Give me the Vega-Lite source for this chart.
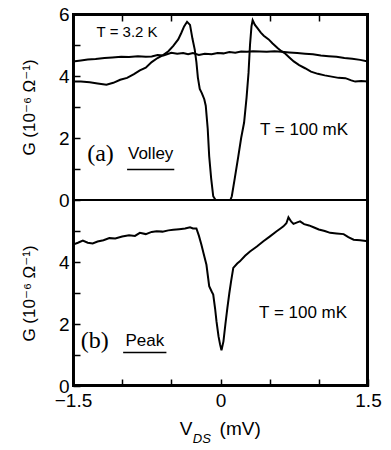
{
  "$schema": "https://vega.github.io/schema/vega-lite/v6.json",
  "padding": {"left": 20, "top": 5, "right": 0, "bottom": 0},
  "width": 295,
  "height": 372,
  "config": {
    "font": "Liberation Sans",
    "view": {"stroke": "black", "strokeWidth": 2},
    "axis": {
      "domain": false, "grid": false,
      "tickColor": "black", "tickWidth": 1.5, "tickSize": -7,
      "labelColor": "black", "labelFont": "Liberation Sans", "labelFontSize": 19,
      "labelFlush": false, "labelPadding": 11,
      "titleFont": "Liberation Sans, DejaVu Sans", "titleFontSize": 17, "titleFontWeight": "normal", "titleColor": "black"
    },
    "text": {"color": "black", "font": "Liberation Sans"}
  },
  "datasets": {
    "valley": [
      {"T": "3.2 K", "v": -1.5, "G": 4.47}, {"T": "3.2 K", "v": -1.42, "G": 4.5}, {"T": "3.2 K", "v": -1.35, "G": 4.53},
      {"T": "3.2 K", "v": -1.27, "G": 4.55}, {"T": "3.2 K", "v": -1.18, "G": 4.58}, {"T": "3.2 K", "v": -1.1, "G": 4.6},
      {"T": "3.2 K", "v": -1.01, "G": 4.62}, {"T": "3.2 K", "v": -0.93, "G": 4.61}, {"T": "3.2 K", "v": -0.84, "G": 4.64},
      {"T": "3.2 K", "v": -0.76, "G": 4.62}, {"T": "3.2 K", "v": -0.7, "G": 4.63}, {"T": "3.2 K", "v": -0.64, "G": 4.68},
      {"T": "3.2 K", "v": -0.58, "G": 4.66}, {"T": "3.2 K", "v": -0.5, "G": 4.75}, {"T": "3.2 K", "v": -0.44, "G": 4.72},
      {"T": "3.2 K", "v": -0.38, "G": 4.74}, {"T": "3.2 K", "v": -0.33, "G": 4.7}, {"T": "3.2 K", "v": -0.28, "G": 4.74},
      {"T": "3.2 K", "v": -0.22, "G": 4.68}, {"T": "3.2 K", "v": -0.16, "G": 4.72}, {"T": "3.2 K", "v": -0.09, "G": 4.7},
      {"T": "3.2 K", "v": -0.03, "G": 4.74}, {"T": "3.2 K", "v": 0.03, "G": 4.73}, {"T": "3.2 K", "v": 0.09, "G": 4.77},
      {"T": "3.2 K", "v": 0.15, "G": 4.75}, {"T": "3.2 K", "v": 0.21, "G": 4.79}, {"T": "3.2 K", "v": 0.27, "G": 4.78},
      {"T": "3.2 K", "v": 0.33, "G": 4.8}, {"T": "3.2 K", "v": 0.4, "G": 4.79}, {"T": "3.2 K", "v": 0.47, "G": 4.78},
      {"T": "3.2 K", "v": 0.55, "G": 4.8}, {"T": "3.2 K", "v": 0.62, "G": 4.78}, {"T": "3.2 K", "v": 0.7, "G": 4.76},
      {"T": "3.2 K", "v": 0.78, "G": 4.74}, {"T": "3.2 K", "v": 0.86, "G": 4.72}, {"T": "3.2 K", "v": 0.94, "G": 4.7},
      {"T": "3.2 K", "v": 1.02, "G": 4.66}, {"T": "3.2 K", "v": 1.1, "G": 4.64}, {"T": "3.2 K", "v": 1.18, "G": 4.62},
      {"T": "3.2 K", "v": 1.26, "G": 4.58}, {"T": "3.2 K", "v": 1.34, "G": 4.56}, {"T": "3.2 K", "v": 1.42, "G": 4.52},
      {"T": "3.2 K", "v": 1.5, "G": 4.47},
      {"T": "100 mK", "v": -1.5, "G": 3.82}, {"T": "100 mK", "v": -1.42, "G": 3.82}, {"T": "100 mK", "v": -1.33, "G": 3.8},
      {"T": "100 mK", "v": -1.25, "G": 3.76}, {"T": "100 mK", "v": -1.16, "G": 3.72}, {"T": "100 mK", "v": -1.09, "G": 3.78},
      {"T": "100 mK", "v": -1.02, "G": 3.88}, {"T": "100 mK", "v": -0.95, "G": 3.94}, {"T": "100 mK", "v": -0.88, "G": 4.06},
      {"T": "100 mK", "v": -0.82, "G": 4.18}, {"T": "100 mK", "v": -0.76, "G": 4.27}, {"T": "100 mK", "v": -0.7, "G": 4.45},
      {"T": "100 mK", "v": -0.64, "G": 4.58}, {"T": "100 mK", "v": -0.58, "G": 4.68}, {"T": "100 mK", "v": -0.53, "G": 4.8},
      {"T": "100 mK", "v": -0.48, "G": 4.97}, {"T": "100 mK", "v": -0.43, "G": 5.18}, {"T": "100 mK", "v": -0.4, "G": 5.38},
      {"T": "100 mK", "v": -0.37, "G": 5.6}, {"T": "100 mK", "v": -0.34, "G": 5.75}, {"T": "100 mK", "v": -0.31, "G": 5.65},
      {"T": "100 mK", "v": -0.285, "G": 5.2}, {"T": "100 mK", "v": -0.262, "G": 4.85}, {"T": "100 mK", "v": -0.245, "G": 4.45},
      {"T": "100 mK", "v": -0.23, "G": 3.95}, {"T": "100 mK", "v": -0.211, "G": 3.58}, {"T": "100 mK", "v": -0.19, "G": 3.45},
      {"T": "100 mK", "v": -0.165, "G": 3.25}, {"T": "100 mK", "v": -0.15, "G": 3.04}, {"T": "100 mK", "v": -0.13, "G": 2.3},
      {"T": "100 mK", "v": -0.115, "G": 1.41}, {"T": "100 mK", "v": -0.095, "G": 0.7}, {"T": "100 mK", "v": -0.074, "G": 0.12},
      {"T": "100 mK", "v": -0.05, "G": 0.0}, {"T": "100 mK", "v": 0.1, "G": 0.0}, {"T": "100 mK", "v": 0.115, "G": 0.12},
      {"T": "100 mK", "v": 0.145, "G": 0.7}, {"T": "100 mK", "v": 0.181, "G": 1.41}, {"T": "100 mK", "v": 0.21, "G": 2.0},
      {"T": "100 mK", "v": 0.24, "G": 2.5}, {"T": "100 mK", "v": 0.265, "G": 3.3}, {"T": "100 mK", "v": 0.285, "G": 4.1},
      {"T": "100 mK", "v": 0.3, "G": 5.0}, {"T": "100 mK", "v": 0.315, "G": 5.6}, {"T": "100 mK", "v": 0.327, "G": 5.8},
      {"T": "100 mK", "v": 0.35, "G": 5.65}, {"T": "100 mK", "v": 0.374, "G": 5.55}, {"T": "100 mK", "v": 0.41, "G": 5.4},
      {"T": "100 mK", "v": 0.44, "G": 5.3}, {"T": "100 mK", "v": 0.49, "G": 5.18}, {"T": "100 mK", "v": 0.53, "G": 5.05},
      {"T": "100 mK", "v": 0.58, "G": 4.9}, {"T": "100 mK", "v": 0.62, "G": 4.8}, {"T": "100 mK", "v": 0.66, "G": 4.72},
      {"T": "100 mK", "v": 0.7, "G": 4.6}, {"T": "100 mK", "v": 0.745, "G": 4.47}, {"T": "100 mK", "v": 0.8, "G": 4.35},
      {"T": "100 mK", "v": 0.86, "G": 4.25}, {"T": "100 mK", "v": 0.92, "G": 4.14}, {"T": "100 mK", "v": 0.99, "G": 4.07},
      {"T": "100 mK", "v": 1.06, "G": 4.02}, {"T": "100 mK", "v": 1.13, "G": 3.98}, {"T": "100 mK", "v": 1.2, "G": 3.94},
      {"T": "100 mK", "v": 1.27, "G": 3.93}, {"T": "100 mK", "v": 1.33, "G": 3.86}, {"T": "100 mK", "v": 1.37, "G": 3.82},
      {"T": "100 mK", "v": 1.43, "G": 3.84}, {"T": "100 mK", "v": 1.5, "G": 3.82}
    ],
    "peak": [
      {"v": -1.5, "G": 4.56}, {"v": -1.45, "G": 4.62}, {"v": -1.4, "G": 4.69}, {"v": -1.35, "G": 4.62},
      {"v": -1.3, "G": 4.6}, {"v": -1.25, "G": 4.66}, {"v": -1.19, "G": 4.7}, {"v": -1.13, "G": 4.77},
      {"v": -1.07, "G": 4.76}, {"v": -1.0, "G": 4.82}, {"v": -0.93, "G": 4.86}, {"v": -0.87, "G": 4.84},
      {"v": -0.82, "G": 4.94}, {"v": -0.76, "G": 4.9}, {"v": -0.7, "G": 4.97}, {"v": -0.65, "G": 4.99},
      {"v": -0.59, "G": 4.98}, {"v": -0.53, "G": 5.02}, {"v": -0.48, "G": 5.04}, {"v": -0.42, "G": 5.06},
      {"v": -0.36, "G": 5.08}, {"v": -0.31, "G": 5.12}, {"v": -0.28, "G": 5.08}, {"v": -0.245, "G": 5.08},
      {"v": -0.22, "G": 4.85}, {"v": -0.194, "G": 4.56}, {"v": -0.17, "G": 4.25}, {"v": -0.143, "G": 3.91},
      {"v": -0.115, "G": 3.22}, {"v": -0.09, "G": 3.05}, {"v": -0.074, "G": 2.95}, {"v": -0.055, "G": 2.5},
      {"v": -0.041, "G": 2.09}, {"v": -0.02, "G": 1.6}, {"v": -0.005, "G": 1.35}, {"v": 0.01, "G": 1.15},
      {"v": 0.03, "G": 1.44}, {"v": 0.05, "G": 2.0}, {"v": 0.07, "G": 2.52}, {"v": 0.09, "G": 3.0},
      {"v": 0.108, "G": 3.38}, {"v": 0.13, "G": 3.81}, {"v": 0.17, "G": 3.95}, {"v": 0.197, "G": 4.02},
      {"v": 0.25, "G": 4.2}, {"v": 0.3, "G": 4.34}, {"v": 0.37, "G": 4.5}, {"v": 0.436, "G": 4.67},
      {"v": 0.5, "G": 4.82}, {"v": 0.571, "G": 4.99}, {"v": 0.61, "G": 5.08}, {"v": 0.64, "G": 5.15},
      {"v": 0.67, "G": 5.25}, {"v": 0.691, "G": 5.44}, {"v": 0.72, "G": 5.3}, {"v": 0.742, "G": 5.23},
      {"v": 0.78, "G": 5.28}, {"v": 0.809, "G": 5.31}, {"v": 0.85, "G": 5.22}, {"v": 0.9, "G": 5.18},
      {"v": 0.946, "G": 5.12}, {"v": 1.0, "G": 5.05}, {"v": 1.06, "G": 5.0}, {"v": 1.115, "G": 4.94},
      {"v": 1.18, "G": 4.92}, {"v": 1.252, "G": 4.9}, {"v": 1.3, "G": 4.8}, {"v": 1.354, "G": 4.72},
      {"v": 1.42, "G": 4.7}, {"v": 1.5, "G": 4.67}
    ]
  },
  "resolve": {"scale": {"y": "independent"}, "axis": {"x": "independent", "y": "independent"}},
  "layer": [
    {
      "layer": [
        {
          "data": {"name": "valley"},
          "mark": {"type": "line", "color": "black", "strokeWidth": 2},
          "encoding": {
            "x": {"field": "v", "type": "quantitative", "scale": {"domain": [-1.5, 1.5], "nice": false, "zero": false},
                  "axis": {"orient": "top", "labels": false, "values": [-1, -0.5, 0.5, 1], "title": null}},
            "y": {"field": "G", "type": "quantitative", "scale": {"domain": [-6, 6], "nice": false, "zero": false},
                  "axis": {"orient": "left", "values": [0, 1, 2, 3, 4, 5, 6], "labelExpr": "datum.value % 2 == 0 ? datum.label : ''", "title": "G (10⁻⁶ Ω⁻¹)", "titlePadding": 20, "titleY": 93}},
            "detail": {"field": "T"}
          }
        },
        {
          "data": {"values": [{}]},
          "mark": {"type": "rule", "strokeWidth": 2, "color": "black"},
          "encoding": {"y": {"datum": 0, "scale": {"domain": [-6, 6]}}}
        },
        {
          "data": {"values": [{}]},
          "mark": {"type": "rule", "strokeWidth": 2, "color": "black"},
          "encoding": {"y": {"datum": 5.97, "scale": {"domain": [-6, 6]}}}
        },
        {
          "data": {"values": [{}]},
          "mark": {"type": "rule", "strokeWidth": 2, "color": "black"},
          "encoding": {"x": {"datum": -1.49}}
        },
        {
          "data": {"values": [{}]},
          "mark": {"type": "rule", "strokeWidth": 2, "color": "black"},
          "encoding": {"x": {"datum": 1.49}}
        },
        {
          "data": {"values": [{}]},
          "mark": {"type": "text", "fontSize": 15, "align": "center", "baseline": "middle"},
          "encoding": {"x": {"datum": -0.95}, "y": {"datum": 5.43, "scale": {"domain": [-6, 6]}}, "text": {"value": "T = 3.2 K"}}
        },
        {
          "data": {"values": [{}]},
          "mark": {"type": "text", "fontSize": 17, "align": "center", "baseline": "middle"},
          "encoding": {"x": {"datum": 0.85}, "y": {"datum": 2.25, "scale": {"domain": [-6, 6]}}, "text": {"value": "T = 100 mK"}}
        },
        {
          "data": {"values": [{}]},
          "mark": {"type": "text", "fontSize": 24, "font": "Liberation Serif", "align": "center", "baseline": "middle"},
          "encoding": {"x": {"datum": -1.22}, "y": {"datum": 1.47, "scale": {"domain": [-6, 6]}}, "text": {"value": "(a)"}}
        },
        {
          "data": {"values": [{}]},
          "mark": {"type": "text", "fontSize": 17, "align": "center", "baseline": "middle"},
          "encoding": {"x": {"datum": -0.71}, "y": {"datum": 1.47, "scale": {"domain": [-6, 6]}}, "text": {"value": "Volley"}}
        },
        {
          "data": {"values": [{}]},
          "mark": {"type": "rule", "strokeWidth": 1.5, "color": "black"},
          "encoding": {"x": {"datum": -0.95}, "x2": {"datum": -0.47}, "y": {"datum": 0.98, "scale": {"domain": [-6, 6]}}}
        }
      ]
    },
    {
      "layer": [
        {
          "data": {"name": "peak"},
          "mark": {"type": "line", "color": "black", "strokeWidth": 2},
          "encoding": {
            "x": {"field": "v", "type": "quantitative", "scale": {"domain": [-1.5, 1.5], "nice": false, "zero": false},
                  "axis": {"orient": "bottom", "values": [-1.5, -1, -0.5, 0, 0.5, 1, 1.5], "format": "~g", "labelExpr": "abs(datum.value) == 1.5 || datum.value == 0 ? datum.label : ''", "title": null, "labelPadding": 12}},
            "y": {"field": "G", "type": "quantitative", "scale": {"domain": [0, 12], "nice": false, "zero": false},
                  "axis": {"orient": "left", "values": [0, 1, 2, 3, 4, 5], "labelExpr": "datum.value % 2 == 0 ? datum.label : ''", "title": "G (10⁻⁶ Ω⁻¹)", "titlePadding": 20, "titleY": 279}}
          }
        },
        {
          "data": {"values": [{}]},
          "mark": {"type": "rule", "strokeWidth": 2, "color": "black"},
          "encoding": {"y": {"datum": 0.03, "scale": {"domain": [0, 12]}}}
        },
        {
          "data": {"values": [{}]},
          "mark": {"type": "text", "fontSize": 17, "align": "center", "baseline": "middle"},
          "encoding": {"x": {"datum": 0.84}, "y": {"datum": 2.35, "scale": {"domain": [0, 12]}}, "text": {"value": "T = 100 mK"}}
        },
        {
          "data": {"values": [{}]},
          "mark": {"type": "text", "fontSize": 24, "font": "Liberation Serif", "align": "center", "baseline": "middle"},
          "encoding": {"x": {"datum": -1.28}, "y": {"datum": 1.44, "scale": {"domain": [0, 12]}}, "text": {"value": "(b)"}}
        },
        {
          "data": {"values": [{}]},
          "mark": {"type": "text", "fontSize": 17, "align": "center", "baseline": "middle"},
          "encoding": {"x": {"datum": -0.77}, "y": {"datum": 1.44, "scale": {"domain": [0, 12]}}, "text": {"value": "Peak"}}
        },
        {
          "data": {"values": [{}]},
          "mark": {"type": "rule", "strokeWidth": 1.5, "color": "black"},
          "encoding": {"x": {"datum": -0.99}, "x2": {"datum": -0.55}, "y": {"datum": 1.08, "scale": {"domain": [0, 12]}}}
        },
        {
          "data": {"values": [{}]},
          "mark": {"type": "text", "fontSize": 19, "align": "center", "baseline": "middle"},
          "encoding": {"x": {"datum": -0.35}, "y": {"datum": -1.4, "scale": {"domain": [0, 12]}}, "text": {"value": "V"}}
        },
        {
          "data": {"values": [{}]},
          "mark": {"type": "text", "fontSize": 13, "fontStyle": "italic", "align": "center", "baseline": "middle"},
          "encoding": {"x": {"datum": -0.19}, "y": {"datum": -1.72, "scale": {"domain": [0, 12]}}, "text": {"value": "DS"}}
        },
        {
          "data": {"values": [{}]},
          "mark": {"type": "text", "fontSize": 19, "align": "center", "baseline": "middle"},
          "encoding": {"x": {"datum": 0.2}, "y": {"datum": -1.4, "scale": {"domain": [0, 12]}}, "text": {"value": "(mV)"}}
        }
      ]
    }
  ]
}
